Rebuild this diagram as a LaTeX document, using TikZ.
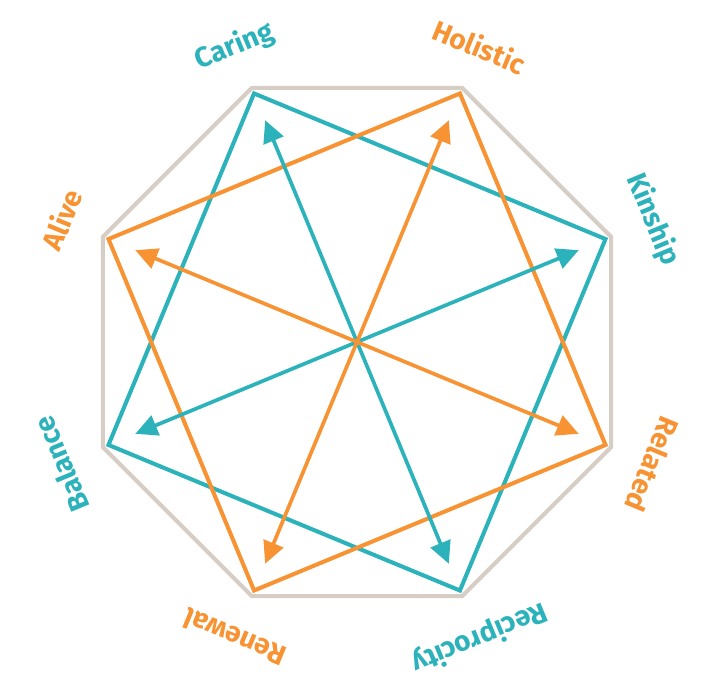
\documentclass[tikz,border=0pt]{standalone}
\usepackage{fontspec}
\setmainfont{Fira Sans}
\usetikzlibrary{arrows.meta}
\definecolor{ringgray}{RGB}{214, 205, 197}
\definecolor{valteal}{RGB}{43, 178, 186}
\definecolor{valorange}{RGB}{247, 147, 50}

\begin{document}
\begin{tikzpicture}[x=0.02cm, y=0.02cm,
    ring/.style={draw=ringgray, line width=2.3pt, line join=miter},
    sqline/.style={line width=2.3pt, line join=miter},
    spoke/.style={line width=2.1pt, -{Triangle[length=0.44cm, width=0.42cm]}},
    lbl/.style={font=\bfseries\fontsize{16}{16}\selectfont, inner sep=0pt}]
    \useasboundingbox (-357,-337) rectangle (344,342);
    \coordinate (c) at (0,0);
    % outer octagon
    \foreach \i in {0,...,7}
        \coordinate (o\i) at ({22.5+45*\i}:275);
    \draw[ring] (o0) -- (o1) -- (o2) -- (o3) -- (o4) -- (o5) -- (o6) -- (o7) -- cycle;
    % square corners and arrow tips
    \foreach \i in {0,...,7} {
        \coordinate (s\i) at ({22.5+45*\i}:269);
        \coordinate (t\i) at ({22.5+45*\i}:240);
    }
    \draw[sqline, valteal] (s0) -- (s2) -- (s4) -- (s6) -- cycle;
    \draw[sqline, valorange] (s1) -- (s3) -- (s5) -- (s7) -- cycle;
    \foreach \i in {0,2,4,6}
        \draw[spoke, valteal] (c) -- (t\i);
    \foreach \i in {1,3,5,7}
        \draw[spoke, valorange] (c) -- (t\i);
    % values around the ring
    \foreach \a/\t/\c in {112.5/Caring/valteal, 67.5/Holistic/valorange,
        22.5/Kinship/valteal, -22.5/Related/valorange,
        -67.5/Reciprocity/valteal, -112.5/Renewal/valorange,
        -157.5/Balance/valteal, 157.5/Alive/valorange}
        \node[lbl, text=\c, rotate=\a-90] (l-\t) at (\a:320) {\t};
\end{tikzpicture}
\end{document}
